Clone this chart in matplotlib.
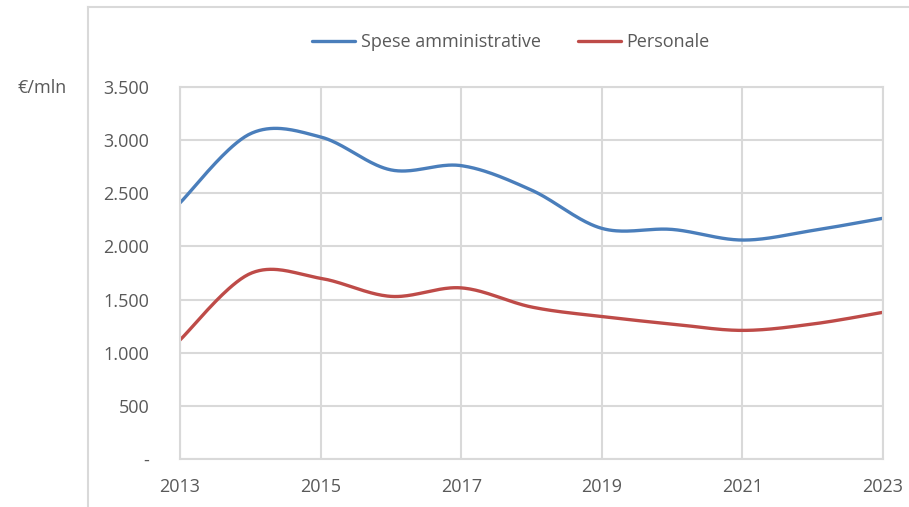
import numpy as np
import matplotlib
matplotlib.use("Agg")
import matplotlib.pyplot as plt
from matplotlib.lines import Line2D
from matplotlib.ticker import FuncFormatter

# data (EUR mln)
years = [2013, 2014, 2015, 2016, 2017, 2018, 2019, 2020, 2021, 2022, 2023]
spese_amministrative = [2410, 3060, 3030, 2720, 2760, 2530, 2170, 2160, 2060, 2150, 2265]
personale = [1120, 1745, 1700, 1530, 1610, 1430, 1340, 1270, 1210, 1270, 1380]

x_ticks = [2013, 2015, 2017, 2019, 2021, 2023]
y_ticks = [0, 500, 1000, 1500, 2000, 2500, 3000, 3500]

BLUE = "#4a7ebb"
RED = "#be4b48"
GRID = "#d9d9d9"
TEXT = "#595959"

plt.rcParams["font.family"] = ["Open Sans", "DejaVu Sans"]


def smooth(xs, ys, n=40):
    """Excel-style smoothed line: Catmull-Rom segments drawn as Bezier curves."""
    pts = np.column_stack([xs, ys]).astype(float)
    ext = np.vstack([pts[0], pts, pts[-1]])
    out = []
    t = np.linspace(0, 1, n)[:, None]
    for i in range(1, len(ext) - 2):
        p0, p1, p2, p3 = ext[i - 1], ext[i], ext[i + 1], ext[i + 2]
        c1 = p1 + (p2 - p0) / 6
        c2 = p2 - (p3 - p1) / 6
        seg = ((1 - t) ** 3) * p1 + 3 * ((1 - t) ** 2) * t * c1 \
            + 3 * (1 - t) * t ** 2 * c2 + t ** 3 * p2
        out.append(seg if i == 1 else seg[1:])
    out = np.vstack(out)
    return out[:, 0], out[:, 1]


fig = plt.figure(figsize=(9.09, 5.07), dpi=100)
ax = fig.add_axes([180 / 909, 1 - 459 / 507, (883 - 180) / 909, (459 - 87) / 507])

sx, sy = smooth(years, spese_amministrative)
px, py = smooth(years, personale)
ax.plot(sx, sy, color=BLUE, lw=2.4, label="Spese amministrative", solid_capstyle="round")
ax.plot(px, py, color=RED, lw=2.4, label="Personale", solid_capstyle="round")

ax.set_xlim(2013, 2023)
ax.set_ylim(0, 3500)
ax.set_xticks(x_ticks)
ax.set_yticks(y_ticks)
ax.yaxis.set_major_formatter(FuncFormatter(
    lambda v, _: "-" if v == 0 else f"{int(v):,}".replace(",", ".")))
ax.grid(True, color=GRID, lw=1.5)
ax.set_axisbelow(True)
for s in ax.spines.values():
    s.set_color(GRID)
    s.set_linewidth(1.5)
ax.tick_params(length=0, labelsize=13, colors=TEXT)
ax.tick_params(axis="x", pad=14)
ax.tick_params(axis="y", pad=22)

fig.text(18 / 909, 1 - 88 / 507, "€/mln", fontsize=13, color=TEXT, va="center", ha="left")

leg = fig.legend(loc="center", bbox_to_anchor=(511 / 909, 1 - 42 / 507), ncol=2, frameon=False,
                 fontsize=13, handlelength=2.4, handletextpad=0.3, columnspacing=2.05)
for t in leg.get_texts():
    t.set_color(TEXT)

# outer chart border (left and top edges visible)
fig.add_artist(Line2D([88 / 909, 88 / 909], [0, 1 - 7 / 507], color=GRID, lw=1.5))
fig.add_artist(Line2D([88 / 909, 1], [1 - 7 / 507, 1 - 7 / 507], color=GRID, lw=1.5))

fig.savefig("out.png", dpi=100)
